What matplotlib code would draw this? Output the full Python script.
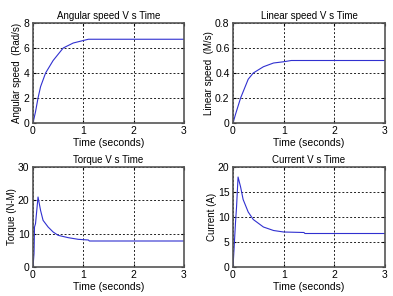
import numpy as np
import matplotlib
matplotlib.use("Agg")
import matplotlib.pyplot as plt

plt.rcParams['font.family'] = ['Liberation Sans', 'DejaVu Sans']
plt.rcParams['font.size'] = 7

# angular speed [rad/s]
t_ang = [0, 0.05, 0.1, 0.15, 0.25, 0.4, 0.6, 0.8, 1.0, 1.1, 3.0]
w_ang = [0, 0.9, 2.0, 2.9, 4.0, 5.0, 6.0, 6.4, 6.6, 6.7, 6.7]

# linear speed [m/s]
t_lin = [0, 0.05, 0.15, 0.3, 0.4, 0.6, 0.8, 1.0, 1.15, 3.0]
v_lin = [0, 0.07, 0.2, 0.35, 0.4, 0.45, 0.48, 0.49, 0.5, 0.5]

# torque [N-m]
t_tq = [0, 0.02, 0.03, 0.05, 0.1, 0.15, 0.2, 0.3, 0.4, 0.5, 0.7, 0.9, 1.1, 1.12, 3.0]
tq = [0, 4, 12, 13, 21, 17, 14, 12, 10.5, 9.5, 8.8, 8.3, 8.1, 7.8, 7.8]

# current [A]
t_cur = [0, 0.02, 0.05, 0.07, 0.1, 0.15, 0.2, 0.3, 0.4, 0.6, 0.8, 1.0, 1.4, 1.42, 3.0]
cur = [0, 3.5, 9, 12, 18, 16, 13.5, 11, 9.5, 8.0, 7.3, 7.0, 6.9, 6.7, 6.7]

panels = [
  # rect, t, y, ylim, yticks, title, ylabel
  ([33, 23, 184, 123], t_ang, w_ang, (0, 8), [0, 2, 4, 6, 8], "Angular speed V s Time", "Angular speed  (Rad/s)"),
  ([233, 23, 385, 123], t_lin, v_lin, (0, 0.8), [0, 0.2, 0.4, 0.6, 0.8], "Linear speed V s Time", "Linear speed  (M/s)"),
  ([33, 167, 184, 267], t_tq, tq, (0, 30), [0, 10, 20, 30], "Torque V s Time", "Torque (N-M)"),
  ([233, 167, 385, 267], t_cur, cur, (0, 20), [0, 5, 10, 15, 20], "Current V s Time", "Current (A)"),
]

W, H = 393, 296
fig = plt.figure(figsize=(W / 100, H / 100), dpi=100)

for rect, t, y, ylim, yticks, title, ylabel in panels:
  x0, y0, x1, y1 = rect
  ax = fig.add_axes([x0 / W, 1 - y1 / H, (x1 - x0) / W, (y1 - y0) / H])
  ax.plot(t, y, color='#3030d0', linewidth=0.8)
  ax.set_xlim(0, 3)
  ax.set_ylim(*ylim)
  ax.set_xticks([0, 1, 2, 3])
  ax.set_yticks(yticks)
  ax.yaxis.set_major_formatter(matplotlib.ticker.FuncFormatter(lambda v, p: ('%g' % v)))
  ax.grid(True, color='#222222', linestyle=(0, (2, 2)), linewidth=0.7)
  ax.set_title(title, fontsize=7, pad=3)
  ax.set_xlabel("Time (seconds)", fontsize=7.5, labelpad=1)
  ax.set_ylabel(ylabel, fontsize=7, labelpad=1)
  ax.tick_params(direction='in', length=2, pad=2.5, labelsize=7.5, top=True, right=True)
  for s in ax.spines.values():
    s.set_color('#555555')
    s.set_linewidth(1.2)

fig.savefig("out.png", dpi=100)
